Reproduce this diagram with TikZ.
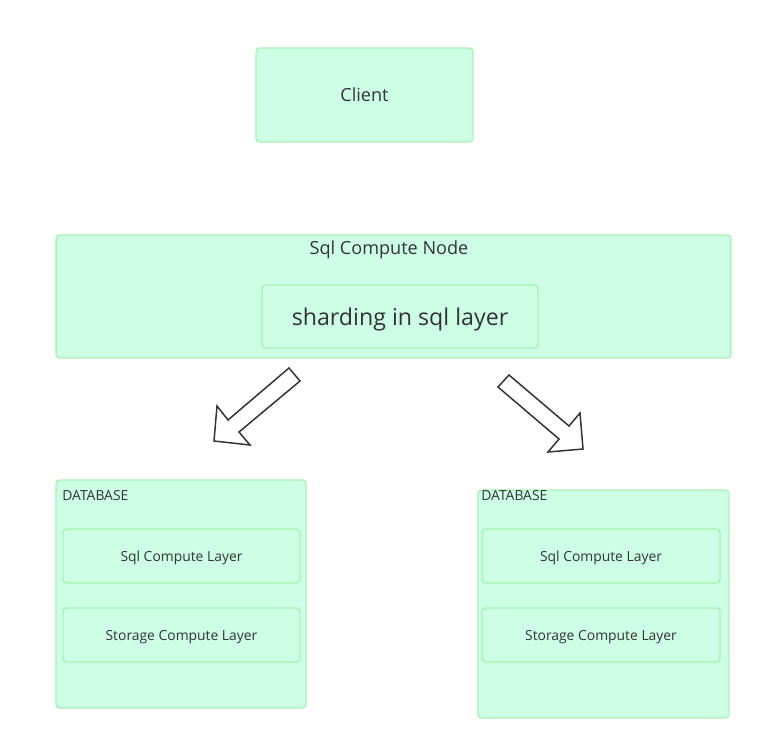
\documentclass[tikz,border=0pt]{standalone}
\usepackage{fontspec}
\setmainfont{Open Sans}
\usepackage{tikz}
\usetikzlibrary{positioning}
\definecolor{mint}{RGB}{204,255,230}
\definecolor{mintline}{RGB}{170,242,180}
\definecolor{ink}{RGB}{51,51,51}

\begin{document}
\begin{tikzpicture}[x=0.02cm,y=-0.02cm,
  box/.style={draw=mintline,line width=0.8pt,rounded corners=2pt,fill=mint,inner sep=0pt,text depth=0pt,text=ink,align=center},
  midfont/.style={font=\fontsize{10.3}{12}\selectfont},
  bigfont/.style={font=\fontsize{13.2}{15}\selectfont},
  smallfont/.style={font=\fontsize{7.9}{9}\selectfont},
  blockarrow/.style={draw=ink,line width=0.85pt,fill=white,line join=miter}]
  \useasboundingbox (0,0) rectangle (763,750);
  % client
  \node[box,midfont,minimum width=4.34cm,minimum height=1.88cm] (client) at (364.5,95) {Client};
  % sql compute node
  \node[box,minimum width=13.5cm,minimum height=2.46cm] (sqlnode) at (393.5,296.5) {};
  \node[midfont,text=ink,inner sep=0pt] (sqlnodetitle) at (389,250) {Sql Compute Node};
  \node[box,bigfont,minimum width=5.52cm,minimum height=1.26cm] (shard) at (400,316.5) {sharding in sql layer};
  % left database
  \node[box,minimum width=5.0cm,minimum height=4.56cm] (dbleft) at (181,594) {};
  \node[smallfont,text=ink,inner sep=0pt,anchor=west] (dblefttitle) at (62,496) {DATABASE};
  \node[box,smallfont,minimum width=4.74cm,minimum height=1.08cm] (sqlleft) at (181.5,556) {Sql Compute Layer};
  \node[box,smallfont,minimum width=4.74cm,minimum height=1.08cm] (storleft) at (181.5,635) {Storage Compute Layer};
  % right database
  \node[box,minimum width=5.02cm,minimum height=4.56cm] (dbright) at (603.5,604) {};
  \node[smallfont,text=ink,inner sep=0pt,anchor=west] (dbrighttitle) at (481,496) {DATABASE};
  \node[box,smallfont,minimum width=4.76cm,minimum height=1.08cm] (sqlright) at (601,556) {Sql Compute Layer};
  \node[box,smallfont,minimum width=4.76cm,minimum height=1.08cm] (storright) at (601,635) {Storage Compute Layer};
  % block arrows
  \draw[blockarrow] (289,368) -- (300,381) -- (239,432) -- (250,445) -- (214,441) -- (217,406) -- (228,420) -- cycle;
  \draw[blockarrow] (509,375) -- (498,387) -- (559,439) -- (548,452) -- (583,449) -- (580,413) -- (569,426) -- cycle;
\end{tikzpicture}
\end{document}
